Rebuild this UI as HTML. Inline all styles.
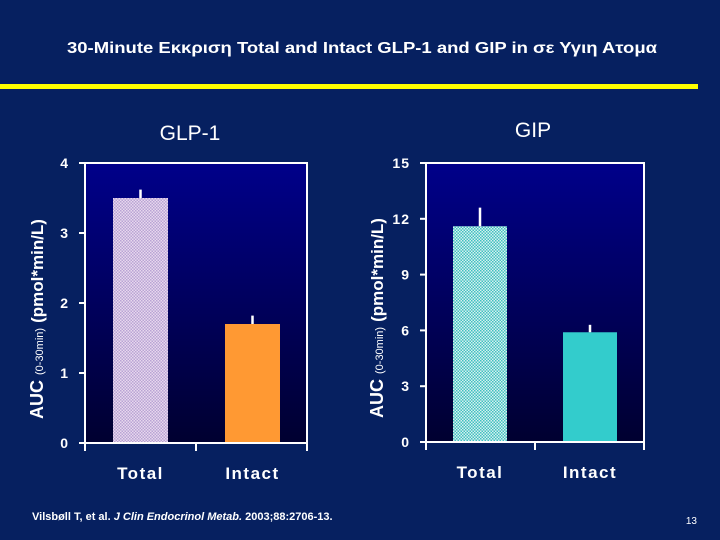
<!DOCTYPE html>
<html><head><meta charset="utf-8"><style>
body{margin:0;background:#062060;}
svg{display:block;font-family:"Liberation Sans",sans-serif;}
</style></head><body>
<svg width="720" height="540" viewBox="0 0 720 540">
<defs>
<linearGradient id="bg" x1="0" y1="0" x2="0" y2="1"><stop offset="0" stop-color="#00008a"/><stop offset="1" stop-color="#000030"/></linearGradient>
<pattern id="pk" width="3" height="3" patternUnits="userSpaceOnUse"><rect width="3" height="3" fill="#e8d8ee"/><rect width="1.5" height="1.5" fill="#b9a3d4"/><rect x="1.5" y="1.5" width="1.5" height="1.5" fill="#b9a3d4"/></pattern>
<pattern id="tq" width="3" height="3" patternUnits="userSpaceOnUse"><rect width="3" height="3" fill="#d8f0f0"/><rect width="1.5" height="1.5" fill="#3fc1c1"/><rect x="1.5" y="1.5" width="1.5" height="1.5" fill="#3fc1c1"/></pattern>
</defs>
<rect width="720" height="540" fill="#062060"/>
<text x="362" y="53" fill="#fff" font-size="16" font-weight="bold" text-anchor="middle" textLength="590" lengthAdjust="spacingAndGlyphs">30-Minute Εκκριση  Total and Intact GLP-1 and GIP in σε Υγιη Ατομα</text>
<rect x="0" y="84" width="698" height="5" fill="#ffff00"/>
<text x="190" y="140" fill="#fff" font-size="21" text-anchor="middle">GLP-1</text>
<text x="533" y="137" fill="#fff" font-size="21" text-anchor="middle">GIP</text>
<g id="c1"></g>
<g id="c2"></g>
<text x="32" y="520" fill="#fff" font-size="11" font-weight="bold">Vilsbøll T, et al. <tspan font-style="italic">J Clin Endocrinol Metab.</tspan> 2003;88:2706-13.</text>
<text x="697" y="524" fill="#fff" font-size="10" text-anchor="end">13</text>
</svg>
<script>
const categories=["Total","Intact"];
const glpValues=[3.5,1.7];
const glpErrors=[0.12,0.12];
const glpTicks=[0,1,2,3,4];
const gipValues=[11.6,5.9];
const gipErrors=[1.0,0.4];
const gipTicks=[0,3,6,9,12,15];
const NS="http://www.w3.org/2000/svg";
function mk(p,t,a){const e=document.createElementNS(NS,t);for(const k in a)e.setAttribute(k,a[k]);p.appendChild(e);return e;}
function chart(g,cfg){
  const {x0,x1,y0,y1,max,ticks,vals,errs,fills,barX,barW,yl}=cfg;
  const ys=v=>y0-(v/max)*(y0-y1);
  const bgR=mk(g,'rect',{x:x0,y:y1,width:x1-x0,height:y0-y1,fill:'url(#bg)'});
  
  
  vals.forEach((v,i)=>{
    const b=mk(g,'rect',{x:barX[i],y:ys(v),width:barW,height:y0-ys(v),fill:fills[i]});
    
    
    const cx=barX[i]+barW/2;
    const e=mk(g,'line',{x1:cx,x2:cx,y1:ys(v),y2:ys(v+errs[i]),stroke:'#fff','stroke-width':2.5});
    
    
    const t=mk(g,'text',{x:cx,y:y0+36,fill:'#fff','font-size':17,'font-weight':'bold','text-anchor':'middle','letter-spacing':'1.5'});
    t.textContent=categories[i];
    
    
  });
  mk(g,'polyline',{points:`${x0},${y0} ${x0},${y1} ${x1},${y1} ${x1},${y0} ${x0},${y0}`,fill:'none',stroke:'#fff','stroke-width':2});
  const mid=(x0+x1)/2;
  [x0,mid,x1].forEach(x=>mk(g,'line',{x1:x,x2:x,y1:y0,y2:y0+8,stroke:'#fff','stroke-width':2}));
  ticks.forEach(t=>{
    const y=ys(t);
    mk(g,'line',{x1:x0-6,x2:x0,y1:y,y2:y,stroke:'#fff','stroke-width':2});
    const tx=mk(g,'text',{x:x0-16,y:y+5,fill:'#fff','font-size':14,'font-weight':'bold','text-anchor':'end','letter-spacing':'1'});
    tx.textContent=t;
    
    
  });
  const a=mk(g,'text',{transform:`translate(${yl},${y0-24}) rotate(-90)`,fill:'#fff','font-size':18,'font-weight':'bold'});
  a.innerHTML='AUC <tspan font-size="11" font-weight="normal">(0-30min)</tspan> <tspan font-size="17">(pmol*min/L)</tspan>';
  
  
}
chart(document.getElementById('c1'),{x0:85,x1:307,y0:443,y1:163,max:4,ticks:glpTicks,vals:glpValues,errs:glpErrors,fills:['url(#pk)','#ff9933'],barX:[113,225],barW:55,yl:43});
chart(document.getElementById('c2'),{x0:426,x1:644,y0:442,y1:163,max:15,ticks:gipTicks,vals:gipValues,errs:gipErrors,fills:['url(#tq)','#33cccc'],barX:[453,563],barW:54,yl:383});
</script>
</body></html>
